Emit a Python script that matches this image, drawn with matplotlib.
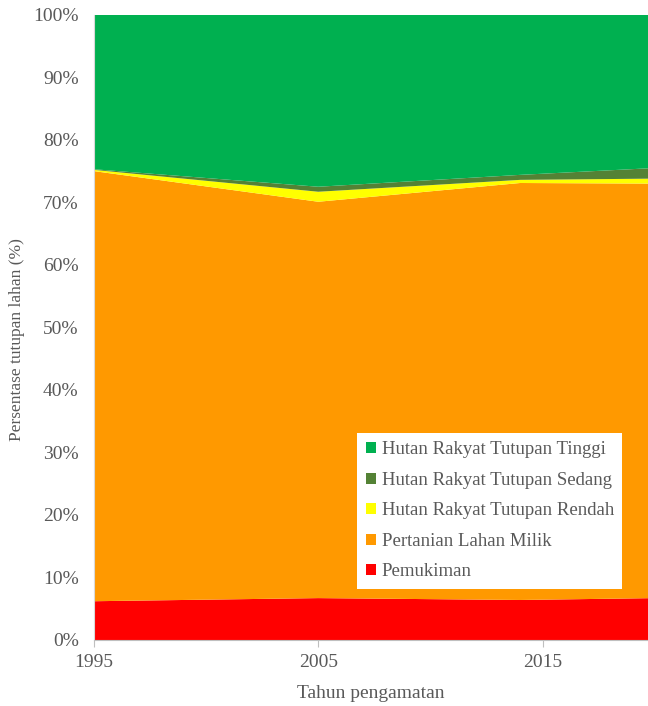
import numpy as np
import matplotlib.pyplot as plt
from matplotlib.patches import Patch

plt.rcParams['font.family'] = ['Liberation Serif', 'DejaVu Serif']

# Data (percent of land cover)
years = [1995, 2005, 2014, 2020]
pemukiman = [6.2, 6.7, 6.4, 6.7]
pertanian = [68.8, 63.4, 66.7, 66.3]
hr_rendah = [0.2, 1.6, 0.5, 0.8]
hr_sedang = [0.1, 0.8, 0.8, 1.7]
hr_tinggi = [24.7, 27.5, 25.6, 24.5]

labels = ["Pemukiman", "Pertanian Lahan Milik", "Hutan Rakyat Tutupan Rendah",
          "Hutan Rakyat Tutupan Sedang", "Hutan Rakyat Tutupan Tinggi"]
colors = ["#FF0000", "#FF9900", "#FFFF00", "#548235", "#00B050"]

txt = "#595959"

fig = plt.figure(figsize=(6.48, 7.06), dpi=100)
ax = fig.add_axes([0.145, 0.0935, 0.855, 0.8855])

ax.stackplot(years, pemukiman, pertanian, hr_rendah, hr_sedang, hr_tinggi,
             colors=colors, linewidth=0)

ax.set_xlim(1995, 2019.7)
ax.set_ylim(0, 100)
ax.set_xticks([1995, 2005, 2015])
ax.set_yticks(np.arange(0, 101, 10))
ax.set_yticklabels([f"{v}%" for v in range(0, 101, 10)])
ax.tick_params(axis='y', length=0, labelsize=14, colors=txt, pad=11)
ax.tick_params(axis='x', length=5, color="#BFBFBF", labelsize=14, colors=txt, pad=5)
for s in ['top', 'right']:
    ax.spines[s].set_visible(False)
ax.spines['left'].set_color("#D9D9D9")
ax.spines['bottom'].set_color("#BFBFBF")

ax.set_xlabel("Tahun pengamatan", fontsize=14, color=txt, labelpad=10)
ax.set_ylabel("Persentase tutupan lahan (%)", fontsize=12.5, color=txt, labelpad=4)
ax.yaxis.set_label_coords(-0.125, 0.48)

handles = [Patch(facecolor=c, edgecolor='none') for c in colors]
leg = ax.legend(handles[::-1], labels[::-1], loc='lower left',
                bbox_to_anchor=(0.475, 0.082), frameon=True, fancybox=False,
                fontsize=13.5, handlelength=0.55, handleheight=0.55,
                handletextpad=0.3, labelspacing=0.72, borderpad=0.45,
                borderaxespad=0)
leg.get_frame().set_edgecolor('none')
leg.get_frame().set_facecolor('white')
leg.get_frame().set_alpha(1)
for t in leg.get_texts():
    t.set_color(txt)

fig.savefig("out.png", dpi=100)
